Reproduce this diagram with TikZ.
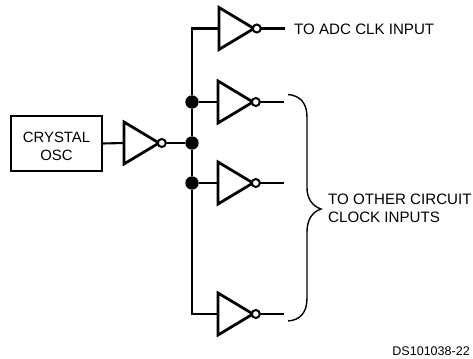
\documentclass[tikz,border=0pt]{standalone}
\usepackage{fontspec}
\setmainfont{Liberation Sans}
\usetikzlibrary{positioning}
\usetikzlibrary{shapes.geometric}
\tikzset{inv/.style={draw,line width=2.4pt,isosceles triangle,isosceles triangle stretches,shape border rotate=0,
  minimum height=1.05cm,minimum width=1.26cm,inner sep=0pt,outer sep=0pt,anchor=lower side}}
\tikzset{bub/.style={draw,circle,line width=1.7pt,minimum size=.24cm,inner sep=0pt,outer sep=0pt,fill=white}}
\tikzset{blob/.style={circle,fill=black,minimum size=.4cm,inner sep=0pt,outer sep=0pt}}
\tikzset{wire/.style={line width=1.8pt}}
\tikzset{lab/.style={font=\fontsize{12.9}{15.4}\selectfont,inner sep=0pt,anchor=west,align=left}}

\begin{document}
\begin{tikzpicture}[x=.03cm,y=-.03cm]
\useasboundingbox (0,0) rectangle (473,358);

\node[draw,line width=1.9pt,minimum width=2.73cm,minimum height=1.65cm,inner sep=0pt,outer sep=0pt] (osc) at (56.5,143.5) {};
\node[align=center,inner sep=0pt,font=\fontsize{12.7}{15.4}\selectfont] (osctext) at (56.5,146) {CRYSTAL\\OSC};

\node[inv] (inv0) at (124,143) {};
\node[inv] (inv1) at (219,28.5) {};
\node[inv] (inv2) at (218,102) {};
\node[inv] (inv3) at (218,183) {};
\node[inv] (inv4) at (218,314) {};

\node[bub] (bub0) [right=-1pt of inv0.apex] {};
\node[bub] (bub1) [right=-1pt of inv1.apex] {};
\node[bub] (bub2) [right=-1pt of inv2.apex] {};
\node[bub] (bub3) [right=-1pt of inv3.apex] {};
\node[bub] (bub4) [right=-1pt of inv4.apex] {};

\node[blob] (j2) at (192,102) {};
\node[blob] (j0) at (192,143) {};
\node[blob] (j3) at (192,183) {};

\coordinate (out1) at (285,28.5);
\coordinate (out2) at (284,102);
\coordinate (out3) at (284,183);
\coordinate (out4) at (284,314);

\draw[wire] (osc.east) -- (inv0.lower side);
\draw[wire] (bub0) -- (j0);
\draw[wire] (j2) |- (inv1.lower side);
\draw[wire] (j2) -- (j0);
\draw[wire] (j0) -- (j3);
\draw[wire] (j3) |- (inv4.lower side);
\draw[wire] (j2) -- (inv2.lower side);
\draw[wire] (j3) -- (inv3.lower side);
\draw[wire] (bub1) -- (out1);
\draw[wire] (bub2) -- (out2);
\draw[wire] (bub3) -- (out3);
\draw[wire] (bub4) -- (out4);

% brace
\coordinate (bt) at (288,94.5);
\coordinate (bm) at (321,209);
\coordinate (bb) at (288,321);
\draw[line width=1.2pt] (bt) .. controls (300,95.5) and (307,103) .. (307,117)
  -- (307,188) .. controls (307,198) and (312,206) .. (bm)
  .. controls (312,212) and (307,220) .. (307,232)
  -- (307,298) .. controls (307,313) and (300,320) .. (bb);

\node[lab] (adc) at (294,29) {TO ADC CLK INPUT};
\node[lab] (other) at (328,208) {TO OTHER CIRCUIT\\CLOCK INPUTS};
\node[lab,anchor=east,font=\fontsize{10.7}{12}\selectfont] (code) at (470,351) {DS101038-22};
\end{tikzpicture}
\end{document}
